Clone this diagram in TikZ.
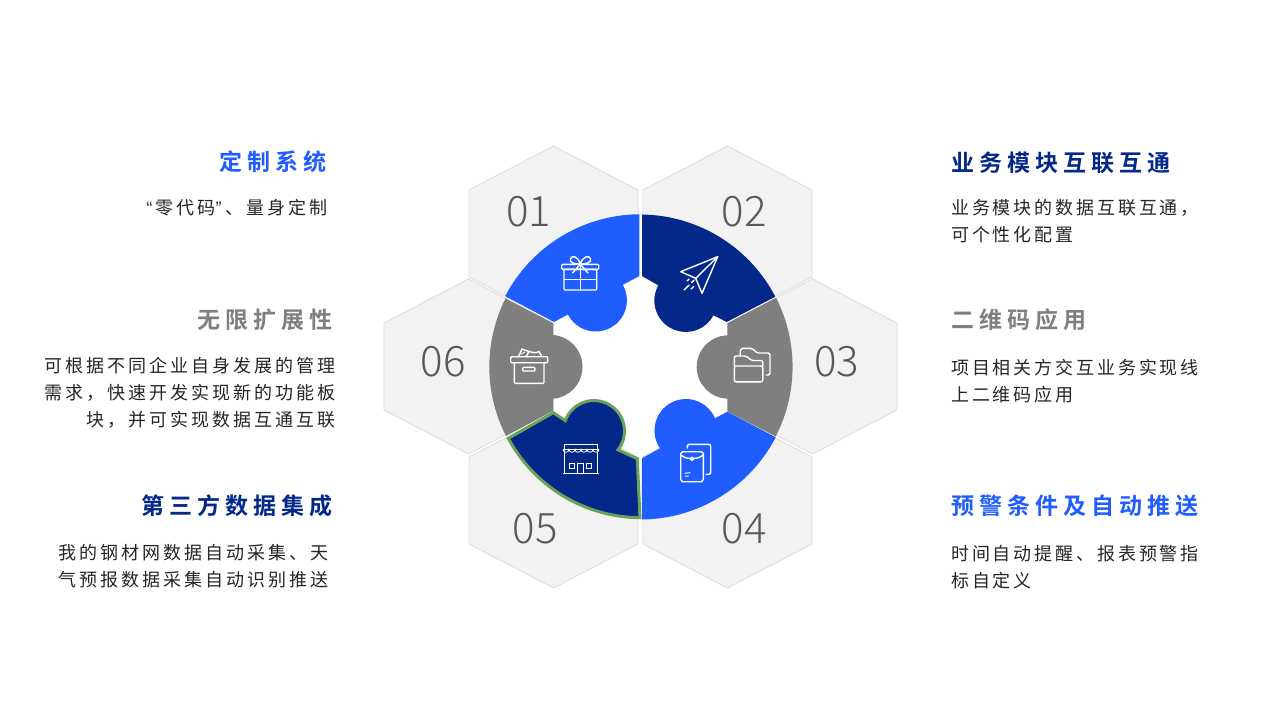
\documentclass[tikz,border=0pt]{standalone}
\usepackage{fontspec}
\newfontfamily\bodyf[LetterSpace=17]{Noto Sans CJK SC}
\newfontfamily\bodyrf[LetterSpace=16]{Noto Sans CJK SC}
\newfontfamily\headf[LetterSpace=22,BoldFont={Noto Sans CJK SC Bold}]{Noto Sans CJK SC}
\newfontfamily\quotef[LetterSpace=17]{Liberation Sans}
\newfontfamily\numf{Noto Sans CJK SC Light}
\definecolor{cblue}{HTML}{205DFF}
\definecolor{cdark}{HTML}{03288A}
\definecolor{cgray}{HTML}{7F7F7F}
\definecolor{chex}{HTML}{F2F2F2}
\definecolor{cedge}{HTML}{DCDCDC}
\definecolor{cgreen}{HTML}{6AA25A}
\definecolor{ctext}{HTML}{262626}
\definecolor{cnum}{HTML}{595959}
\tikzset{
  hexa/.style={fill=chex,draw=cedge,line width=0.8pt,line join=round},
  icon/.style={draw=white,line width=1.4pt,line join=round,line cap=round,fill=none},
  iconthin/.style={draw=white,line width=0.8pt,line join=miter,fill=none},
  numlabel/.style={inner sep=0pt,text=cnum,font=\fontsize{42}{46}\selectfont\numf},
  headR/.style={inner sep=0pt,anchor=base east,font=\fontsize{23}{26}\selectfont\headf\bfseries},
  headL/.style={inner sep=0pt,anchor=base west,font=\fontsize{23}{26}\selectfont\headf\bfseries},
  bodyR/.style={inner sep=0pt,anchor=base east,text=ctext,font=\fontsize{18}{22}\selectfont\bodyf},
  bodyL/.style={inner sep=0pt,anchor=base west,text=ctext,font=\fontsize{18}{22}\selectfont\bodyrf},
}
\newcommand{\hexat}[2]{\draw[hexa] (#1,#2) ++(0,-87.5) -- ++(84.5,44) -- ++(0,87) -- ++(-84.5,44) -- ++(-84.5,-44) -- ++(0,-87) -- cycle;}
\begin{document}
\begin{tikzpicture}[x=1pt,y=-1pt]
\useasboundingbox (0,0) rectangle (1280,720);
\fill[white] (0,0) rectangle (1280,720);
% hexagons
\hexat{553.5}{233.5}
\hexat{727.5}{233.5}
\hexat{812.5}{366.5}
\hexat{727.5}{500.5}
\hexat{553.5}{500.5}
\hexat{468.5}{366.5}
% numbers
\node[numlabel] (n1) at (528.5,212) {01};
\node[numlabel] (n2) at (744,212) {02};
\node[numlabel] (n3) at (836.5,362) {03};
\node[numlabel] (n4) at (744,529) {04};
\node[numlabel] (n5) at (535,529) {05};
\node[numlabel] (n6) at (443,362) {06};
% puzzle sectors
\fill[cblue] (639.3,214.3) -- (639.3,276) -- (622.7,284.7) arc[start angle=30,end angle=-153,radius=31.2pt] -- (554,322) -- (505.2,296.2) arc[start angle=152.4,end angle=90.45,radius=152.7pt] -- cycle;
\fill[cdark] (642,214.3) -- (642,276) -- (658.3,285.3) arc[start angle=151,end angle=332,radius=31.4pt] -- (726.7,322) -- (775.3,296.7) arc[start angle=27.5,end angle=89.4,radius=152.7pt] -- cycle;
\fill[cgray] (775.7,298) -- (727.3,323.3) -- (727.3,335.3) arc[start angle=92,end angle=268,radius=31.7pt] -- (727.3,411.5) -- (775.7,436.5) arc[start angle=-27.2,end angle=26.8,radius=152.5pt] -- cycle;
\fill[cblue] (642,458.3) -- (660,448.3) arc[start angle=214.4,end angle=22.8,radius=31.5pt] -- (727.3,411.7) -- (775.7,437.3) arc[start angle=-27.5,end angle=-89.4,radius=152.7pt] -- cycle;
\draw[fill=cdark,draw=cgreen,line width=3pt,line join=miter] (637.3,458.7) -- (618,449.8) arc[start angle=-38,end angle=160,radius=30.5pt] -- (553.3,412.7) -- (508.3,438.3) arc[start angle=208.3,end angle=269.5,radius=151pt] -- cycle;
\fill[cgray] (505,298.3) -- (553.3,323.3) -- (553.3,335) arc[start angle=85,end angle=-85,radius=32pt] -- (553.3,410.7) -- (506,436) arc[start angle=207.1,end angle=153.1,radius=152pt] -- cycle;
% gift icon
\draw[icon,rounded corners=1pt] (561.7,264.3) rectangle (598.7,269.3);
\draw[icon,rounded corners=1pt] (564,269.3) rectangle (596.7,290);
\draw[icon] (580.3,264.3) -- (580.3,290) (564,279.3) -- (596.7,279.3);
\draw[icon] (580.3,264.3) .. controls (575,264) and (568.5,263) .. (570.5,258.5) .. controls (572,255) and (578,256) .. (580.3,264.3) .. controls (582.5,256) and (589,255) .. (590.5,258.5) .. controls (592,263) and (585,264) .. (580.3,264.3);
\draw[icon] (580.3,264.3) -- (572.5,273) (580.3,264.3) -- (588,273);
% plane icon
\draw[icon] (717.7,256.7) -- (680.7,271.7) -- (695.7,278.3) -- (702,293.3) -- cycle;
\draw[icon] (717.7,256.7) -- (695.7,278.3);
\draw[icon] (684,290) -- (689,285) (691.5,282.5) -- (694,280) (687,281) -- (689,279) (691,289) -- (693.5,286.5);
% box icon
\draw[icon,rounded corners=1pt] (510.7,356.7) rectangle (547.7,362.7);
\draw[icon,rounded corners=1pt] (514.3,362.7) -- (514.3,383.3) -- (544,383.3) -- (544,362.7);
\draw[icon,rounded corners=1pt] (522.7,367.3) rectangle (535,371);
\draw[icon] (518.5,356.7) -- (522,349) -- (529,351.5) -- (526,356.7) (528,351) .. controls (532,352.5) and (536,353.5) .. (539,351.5) -- (542,356.7);
\draw[icon,line width=0.8pt] (521,354) -- (525,352);
% folder icon
\draw[icon,rounded corners=2pt] (734.3,366) -- (734.3,381.9) -- (762.8,381.9) -- (762.8,366) -- cycle;
\draw[icon,rounded corners=2pt] (734.3,366) -- (734.3,356) -- (746.7,356) -- (751,360.5) -- (762.8,360.5) -- (762.8,366);
\draw[icon,rounded corners=2pt] (740,356) -- (740.5,348.3) -- (752.5,348.3) -- (756.5,353) -- (770,353) -- (770,375) -- (766,375);
% envelope icon
\draw[icon,rounded corners=2.5pt] (680.7,451.7) rectangle (703.3,481.7);
\draw[icon] (680.7,455) .. controls (685,458) and (688,458.7) .. (692,458.7) .. controls (696,458.7) and (699,458) .. (703.3,455);
\draw[icon,fill=cblue] (692,458.7) circle[radius=1.6pt];
\draw[icon,line width=1pt] (685,473.3) -- (690,472.7) (685,476) -- (688.3,476);
\draw[icon,rounded corners=2pt] (687.3,448) -- (687.3,444.3) -- (710.7,444.3) -- (710.7,474.3) -- (706,474.3);
% shop icon
\draw[iconthin] (564,449.3) -- (564,444) -- (597.3,444) -- (597.3,449.3);
\draw[iconthin] (562.7,449.3) -- (598.7,449.3);
\draw[iconthin] (564,449.3) -- (564,473.3) (597.3,449.3) -- (597.3,473.3);
\draw[iconthin] (562.7,473.3) -- (598.7,473.3);
\draw[iconthin] (563,449.3) arc[start angle=180,end angle=360,radius=3pt] arc[start angle=180,end angle=360,radius=3pt] arc[start angle=180,end angle=360,radius=3pt] arc[start angle=180,end angle=360,radius=3pt] arc[start angle=180,end angle=360,radius=3pt] arc[start angle=180,end angle=360,radius=3pt];
\draw[iconthin] (569.3,463.3) rectangle (574.7,468.3);
\draw[iconthin] (586.7,463.3) rectangle (591.7,468.3);
\draw[iconthin] (577.7,473.3) -- (577.7,463.3) -- (583.3,463.3) -- (583.3,473.3);
% left texts
\node[headR,text=cblue] (t1) at (327,170) {定制系统};
\node[bodyR] (b1) at (328,214) {{\quotef “}\hspace{3pt}零代码{\quotef ”}\hspace{4pt}、量身定制};
\node[headR,text=cgray] (t6) at (333,328) {无限扩展性};
\node[bodyR] (b6a) at (336,372) {可根据不同企业自身发展的管理};
\node[bodyR] (b6b) at (336,399) {需求，快速开发实现新的功能板};
\node[bodyR] (b6c) at (336,426) {块，并可实现数据互通互联};
\node[headR,text=cdark] (t5) at (333,514) {第三方数据集成};
\node[bodyR] (b5a) at (329,559) {我的钢材网数据自动采集、天};
\node[bodyR] (b5b) at (329,586) {气预报数据采集自动识别推送};
% right texts
\node[headL,text=cdark] (t2) at (951,171) {业务模块互联互通};
\node[bodyL] (b2a) at (951,214) {业务模块的数据互联互通，};
\node[bodyL] (b2b) at (951,241) {可个性化配置};
\node[headL,text=cgray] (t3) at (951,328) {二维码应用};
\node[bodyL] (b3a) at (951,374) {项目相关方交互业务实现线};
\node[bodyL] (b3b) at (951,401) {上二维码应用};
\node[headL,text=cblue] (t4) at (951,514) {预警条件及自动推送};
\node[bodyL] (b4a) at (951,560) {时间自动提醒、报表预警指};
\node[bodyL] (b4b) at (951,587) {标自定义};
\end{tikzpicture}
\end{document}
